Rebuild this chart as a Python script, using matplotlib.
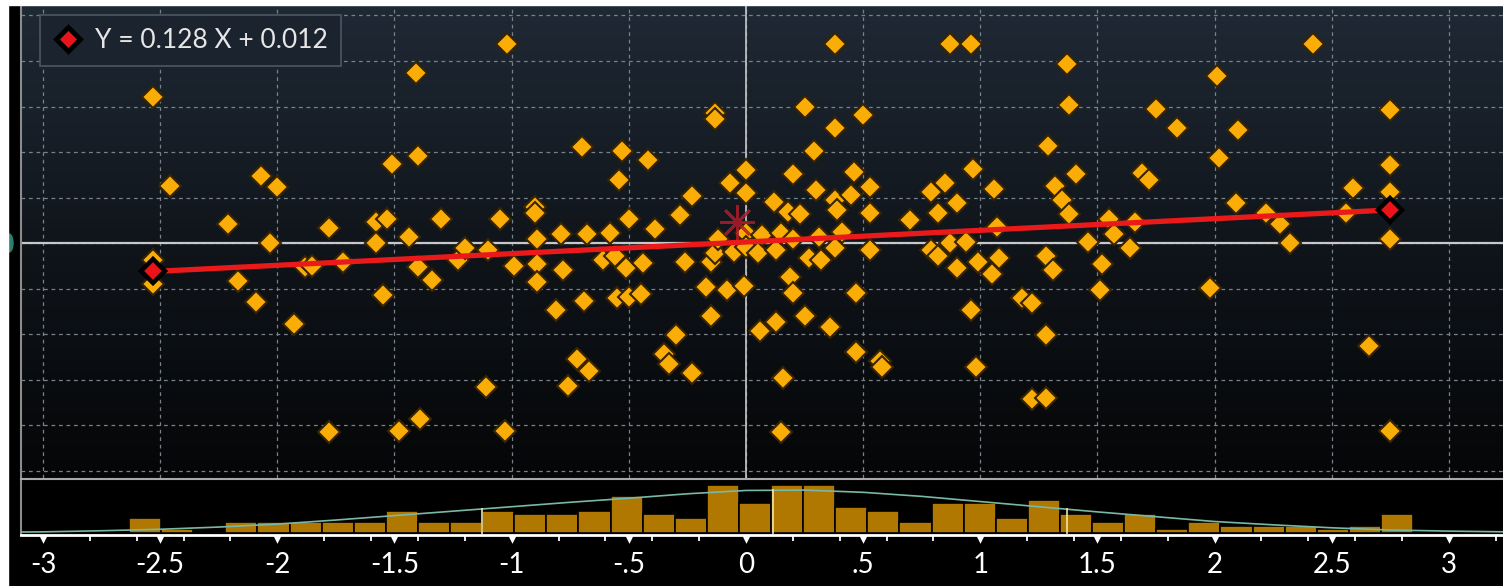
import numpy as np
import matplotlib
matplotlib.use("Agg")
import matplotlib.pyplot as plt
from matplotlib.colors import LinearSegmentedColormap
from matplotlib.lines import Line2D
from matplotlib.patches import Rectangle, Ellipse
from matplotlib.path import Path
from matplotlib.ticker import MultipleLocator

plt.rcParams['font.family'] = ['Lato', 'DejaVu Sans']

# scatter observations (X, Y)
x_vals = [-2.53, -2.53, -2.53, -2.53, -2.46, -2.21, -2.17, -2.09, -2.07, -2.03,
          -2.00, -1.93, -1.88, -1.85, -1.78, -1.78, -1.72, -1.58, -1.58, -1.55,
          -1.53, -1.51, -1.48, -1.44, -1.41, -1.40, -1.40, -1.39, -1.34, -1.30,
          -1.23, -1.20, -1.11, -1.10, -1.05, -1.03, -1.02, -0.99, -0.90, -0.90,
          -0.89, -0.89, -0.89, -0.81, -0.79, -0.78, -0.76, -0.72, -0.70, -0.69,
          -0.68, -0.67, -0.61, -0.58, -0.56, -0.55, -0.54, -0.53, -0.51, -0.50,
          -0.50, -0.45, -0.44, -0.42, -0.39, -0.35, -0.33, -0.30, -0.28, -0.26,
          -0.23, -0.23, -0.17, -0.15, -0.15, -0.13, -0.13, -0.13, -0.12, -0.08,
          -0.07, -0.05, 0.00, -0.01, 0.00, 0.00, 0.00, 0.05, 0.06, 0.07,
          0.12, 0.13, 0.13, 0.15, 0.15, 0.16, 0.18, 0.19, 0.20, 0.20,
          0.20, 0.23, 0.25, 0.25, 0.27, 0.29, 0.30, 0.32, 0.31, 0.36,
          0.38, 0.38, 0.38, 0.38, 0.39, 0.41, 0.45, 0.46, 0.47, 0.47,
          0.50, 0.53, 0.53, 0.53, 0.57, 0.58, 0.70, 0.79, 0.79, 0.82,
          0.82, 0.85, 0.87, 0.87, 0.90, 0.90, 0.94, 0.96, 0.96, 0.97,
          0.98, 0.99, 1.05, 1.06, 1.07, 1.08, 1.18, 1.22, 1.22, 1.28,
          1.28, 1.28, 1.29, 1.31, 1.32, 1.35, 1.37, 1.38, 1.38, 1.41,
          1.46, 1.51, 1.52, 1.55, 1.57, 1.64, 1.66, 1.69, 1.72, 1.75,
          1.84, 1.98, 2.01, 2.02, 2.09, 2.10, 2.22, 2.28, 2.32, 2.42,
          2.56, 2.59, 2.66, 2.75, 2.75, 2.75, 2.75, 2.75]
y_vals = [1.60, -0.19, -0.31, -0.45, 0.63, 0.21, -0.42, -0.65, 0.74, 0.00,
          0.62, -0.89, -0.26, -0.25, -2.07, 0.17, -0.21, 0.23, 0.00, -0.57,
          0.27, 0.87, -2.06, 0.07, 1.87, 0.96, -0.26, -1.93, -0.40, 0.27,
          -0.19, -0.05, -1.58, -0.08, 0.27, -2.06, 2.19, -0.25, 0.40, 0.33,
          0.04, -0.23, -0.43, -0.74, 0.10, -0.30, -1.57, -1.27, 1.05, -0.64,
          0.10, -1.41, -0.19, 0.11, -0.14, -0.60, 0.69, 1.01, -0.27, 0.26,
          -0.59, -0.56, -0.22, 0.91, 0.15, -1.22, -1.33, -1.01, 0.31, -0.21,
          0.52, -1.43, -0.48, -0.80, -0.21, -0.11, 1.43, 1.36, 0.05, -0.52,
          0.66, -0.10, 0.11, -0.47, 0.80, 0.55, -0.04, -0.11, -0.97, 0.09,
          0.45, -0.87, -0.08, 0.11, -2.07, -1.48, 0.34, -0.37, 0.76, -0.55,
          0.04, 0.32, 1.49, -0.80, -0.16, 1.01, 0.58, -0.19, 0.07, -0.92,
          0.47, -0.05, 2.19, 1.26, 0.36, 0.12, 0.53, 0.78, -0.55, -1.20,
          1.41, 0.62, 0.33, -0.08, -1.29, -1.36, 0.25, 0.56, -0.08, 0.33,
          -0.14, 0.66, 0.00, 2.19, 0.44, -0.27, 0.01, 2.19, -0.74, 0.81,
          -1.36, -0.21, -0.34, 0.59, 0.18, -0.16, -0.60, -0.66, -1.71, -0.14,
          -1.01, -1.70, 1.07, -0.30, 0.63, 0.47, 1.97, 1.52, 0.32, 0.76,
          0.01, -0.52, -0.23, 0.27, 0.10, -0.05, 0.23, 0.77, 0.69, 1.47,
          1.26, -0.49, 1.84, 0.93, 0.44, 1.24, 0.33, 0.21, 0.00, 2.19,
          0.33, 0.60, -1.13, 1.46, 0.86, 0.56, 0.05, -2.06]

# fitted line Y = slope * X + intercept
slope = 0.128
intercept = 0.012
centroid_x, centroid_y = -0.04, 0.23

# distribution of X below the scatter
hist_counts = [4, 1, 0, 3, 3, 3, 3, 3, 6, 3, 3, 6, 5, 5, 6, 10, 5, 4, 13, 8,
               13, 13, 7, 6, 3, 8, 8, 4, 9, 5, 3, 5, 1, 3, 2, 2, 2, 1, 2, 5]
hist_lo, hist_hi = -2.633, 2.847
curve_x = [-3.1, -3.0, -2.75, -2.5, -2.25, -2.0, -1.75, -1.5, -1.25, -1.0,
           -0.75, -0.5, -0.25, 0.0, 0.25, 0.5, 0.75, 1.0, 1.25, 1.5,
           1.75, 2.0, 2.25, 2.5, 2.75, 3.0, 3.25]
curve_y = [0.25, 0.3, 0.6, 1.0, 1.6, 2.4, 3.5, 4.7, 5.9, 7.1,
           8.3, 9.4, 10.6, 11.5, 11.6, 11.0, 9.9, 8.5, 7.1, 5.7,
           4.4, 3.1, 2.2, 1.4, 0.8, 0.5, 0.3]
mean_sd_marks = [-1.127, 0.115, 1.37]

tick_vals = [-3, -2.5, -2, -1.5, -1, -0.5, 0, 0.5, 1, 1.5, 2, 2.5, 3]
tick_labels = ["-3", "-2.5", "-2", "-1.5", "-1", "-.5", "0", ".5", "1", "1.5", "2", "2.5", "3"]

W, H = 1503, 586
fig = plt.figure(figsize=(W / 100, H / 100), dpi=100)
fig.patch.set_facecolor('black')


def fx(px):
    return px / W


def fy(py):
    return 1 - py / H


ax = fig.add_axes([fx(21), fy(478), fx(W - 21), (478 - 5) / H])
hx = fig.add_axes([fx(21), fy(535), fx(W - 21), (535 - 479) / H])

xlim = (-3.094, 3.231)

# --- scatter panel ---
grad = np.linspace(0, 1, 256).reshape(-1, 1)
bg = LinearSegmentedColormap.from_list('bg', ['#050607', '#10151b', '#1f2935'])
ax.imshow(grad, extent=[0, 1, 0, 1], transform=ax.transAxes, cmap=bg,
          aspect='auto', origin='lower', zorder=0)

ax.set_xticks(np.arange(-3, 3.01, 0.5))
ax.set_yticks(np.arange(-2.5, 2.51, 0.5))
ax.tick_params(length=0, labelbottom=False, labelleft=False)
ax.set_axisbelow(True)
ax.grid(True, color='#78808a', lw=0.9, ls=(0, (3, 3)))
ax.axhline(0, color='#c8c8c8', lw=1.6, zorder=1.5)
ax.axvline(0, color='#c8c8c8', lw=1.2, zorder=1.5)

ax.plot(x_vals, y_vals, ls='none', marker='D', ms=11, mfc='#f9ad06',
        mec='#3a2400', mew=1.5, zorder=3)

ax.plot(centroid_x, centroid_y, marker=(8, 2, 0), ms=25, mec='#b01c28',
        mew=2, alpha=0.85, zorder=3.5)

x_end = np.array([min(x_vals), max(x_vals)])
y_end = slope * x_end + intercept
ax.plot(x_end, y_end, color='#ea1a1a', lw=3.8, solid_capstyle='butt', zorder=4)
ax.plot(x_end, y_end, ls='none', marker='D', ms=12, mfc='#e8141a',
        mec='black', mew=3.2, zorder=5)

handle = Line2D([], [], ls='none', marker='D', ms=12, mfc='#e8141a', mec='black', mew=3.5)
leg = ax.legend([handle], [f"Y = {slope:.3f} X + {intercept:.3f}"], loc='upper left',
                bbox_to_anchor=(0.0128, 0.979), borderaxespad=0, frameon=True,
                fancybox=False, facecolor='#1b242e', edgecolor='#4d5763', framealpha=1,
                fontsize=19, labelcolor='#e6e6e6', handletextpad=0.45,
                borderpad=0.5, handlelength=1.15)
leg.get_frame().set_linewidth(1.2)
leg.set_zorder(10)

ax.set_xlim(*xlim)
ax.set_ylim(-2.58, 2.615)
for s in ['top', 'right', 'bottom']:
    ax.spines[s].set_visible(False)
ax.spines['left'].set_color('#8c8c8c')
ax.spines['left'].set_linewidth(1.5)

# --- histogram panel ---
hx.set_facecolor('black')
edges = np.linspace(hist_lo, hist_hi, len(hist_counts) + 1)
hx.bar(edges[:-1], hist_counts, width=np.diff(edges), align='edge',
       color='#b07800', edgecolor='black', linewidth=1.2, zorder=2)
hx.plot(curve_x, curve_y, color='#79b8a8', lw=1.2, zorder=3)
for m in mean_sd_marks:
    hx.plot([m, m], [0, np.interp(m, curve_x, curve_y)], color='#efe7a6',
            lw=1.4, alpha=0.85, zorder=4)

hx.set_xlim(*xlim)
hx.set_ylim(-0.55, 14.6)
hx.set_yticks([])
hx.set_xticks(tick_vals)
hx.set_xticklabels(tick_labels)
hx.xaxis.set_minor_locator(MultipleLocator(0.2))
hx.tick_params(axis='x', which='major', length=12, width=0, color='white',
               labelcolor='white', labelsize=20, pad=0.5)
hx.tick_params(axis='x', which='minor', length=4, width=1.3, color='white')
tri = Path([(-0.5, 0), (0.5, 0), (0, -1), (-0.5, 0)],
           [Path.MOVETO, Path.LINETO, Path.LINETO, Path.CLOSEPOLY])
for t in hx.xaxis.get_major_ticks():
    t.tick1line.set_marker(tri)
    t.tick1line.set_markerfacecolor('white')
    t.tick1line.set_markeredgewidth(0)

hx.spines['right'].set_visible(False)
hx.spines['bottom'].set_color('white')
hx.spines['bottom'].set_linewidth(2)
hx.spines['left'].set_color('#8c8c8c')
hx.spines['left'].set_linewidth(1.5)
hx.spines['top'].set_color('#a8a8a8')
hx.spines['top'].set_linewidth(1.5)

# left-edge axis marker and the light border strips
fig.add_artist(Ellipse((fx(9), fy(243)), fx(8), 18 / H, transform=fig.transFigure,
                       color='#2d7f72', zorder=5))
fig.add_artist(Rectangle((0, 0), fx(8), 1, transform=fig.transFigure,
                         color='white', zorder=10))
fig.add_artist(Rectangle((0, fy(5)), 1, 5 / H, transform=fig.transFigure,
                         color='white', zorder=10))

fig.savefig('out.png', dpi=100, facecolor=fig.get_facecolor())
